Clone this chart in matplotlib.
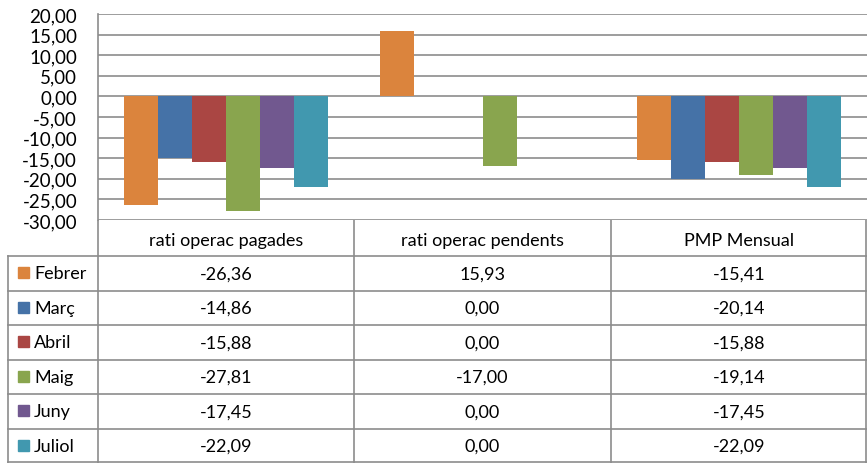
import matplotlib.pyplot as plt
import numpy as np

plt.rcParams['font.family'] = ['Lato', 'DejaVu Sans']

categories = ['rati operac pagades', 'rati operac pendents', 'PMP Mensual']
months = ['Febrer', 'Març', 'Abril', 'Maig', 'Juny', 'Juliol']
febrer = [-26.36, 15.93, -15.41]
marc = [-14.86, 0.00, -20.14]
abril = [-15.88, 0.00, -15.88]
maig = [-27.81, -17.00, -19.14]
juny = [-17.45, 0.00, -17.45]
juliol = [-22.09, 0.00, -22.09]
series = [febrer, marc, abril, maig, juny, juliol]
colors = ['#DB843D', '#4572A7', '#AA4643', '#89A54E', '#71588F', '#4198AF']

W, H = 867, 464
fig = plt.figure(figsize=(W / 100, H / 100), dpi=100)

# plot area in pixels
px_left, px_right, px_top, px_bottom = 98, 867, 15, 221
ax = fig.add_axes([px_left / W, 1 - px_bottom / H,
                   (px_right - px_left) / W, (px_bottom - px_top) / H])

grid_c = '#8C8C8C'
x = np.arange(len(categories))
bw = 0.133
for i, (vals, c) in enumerate(zip(series, colors)):
    ax.bar(x + (i - 2.5) * bw, vals, width=bw, color=c, zorder=3)

ax.set_xlim(-0.5, 2.5)
ax.set_ylim(-30, 20)
ticks = np.arange(-30, 21, 5)
ax.set_yticks(ticks)
ax.set_yticklabels([f'{t:.2f}'.replace('.', ',') for t in ticks], fontsize=13.5)
ax.set_xticks([])
ax.tick_params(axis='y', length=0, pad=15)
for t in ticks:
    ax.axhline(t, color=grid_c, lw=1.2, zorder=1)
for s in ['top', 'right', 'bottom']:
    ax.spines[s].set_visible(False)
ax.spines['left'].set_color(grid_c)
ax.spines['left'].set_linewidth(1.2)

# data table below the plot
tx = fig.add_axes([0, 0, 1, (H - px_bottom) / H])
tx.set_xlim(0, W)
tx.set_ylim(H, px_bottom)
tx.axis('off')

col_w = (px_right - px_left) / len(categories)
header_h = 36
row_h = (H - px_bottom - header_h) / len(months)
lc = '#8C8C8C'
fs = 13

# vertical lines
tx.plot([px_left, px_left], [px_bottom, H], color=lc, lw=1.2)
for j in range(1, len(categories) + 1):
    xx = min(px_left + j * col_w, W - 0.8)
    tx.plot([xx, xx], [px_bottom, H], color=lc, lw=1.2)
tx.plot([8, 8], [px_bottom + header_h, H], color=lc, lw=1.2)
# horizontal lines
for r in range(len(months) + 1):
    yy = min(px_bottom + header_h + r * row_h, H - 0.8)
    tx.plot([8, W], [yy, yy], color=lc, lw=1.2)

for j, cat in enumerate(categories):
    tx.text(px_left + (j + 0.5) * col_w, px_bottom + header_h / 2 + 2, cat,
            ha='center', va='center', fontsize=fs)

for r, (m, vals, c) in enumerate(zip(months, series, colors)):
    yc = px_bottom + header_h + (r + 0.5) * row_h
    tx.add_patch(plt.Rectangle((18, yc - 6), 11, 11, color=c))
    tx.text(34, yc, m, ha='left', va='center', fontsize=fs)
    for j, v in enumerate(vals):
        tx.text(px_left + (j + 0.5) * col_w, yc,
                f'{v:.2f}'.replace('.', ','), ha='center', va='center',
                fontsize=fs)

fig.savefig('out.png', dpi=100)
